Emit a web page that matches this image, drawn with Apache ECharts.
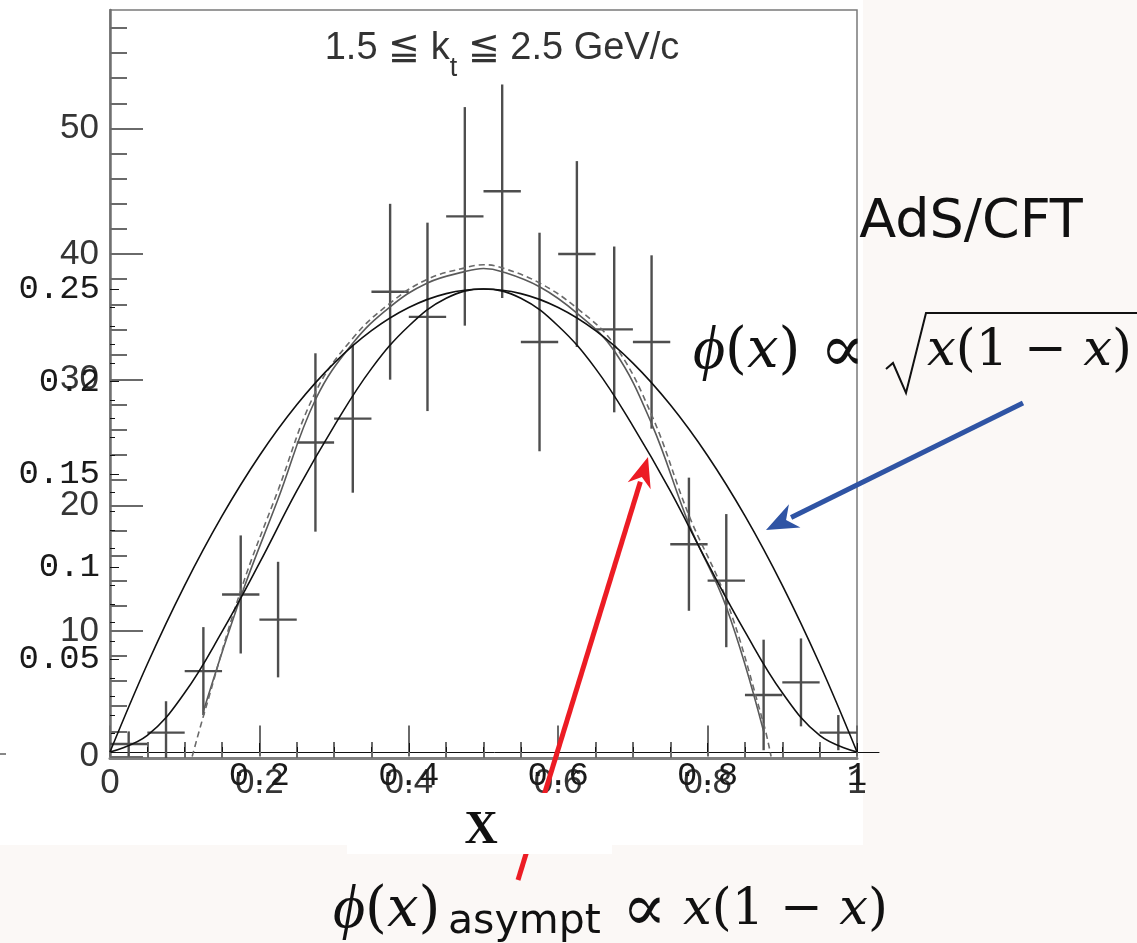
<!DOCTYPE html>
<html><head><meta charset="utf-8">
<script src="https://cdn.jsdelivr.net/npm/echarts@6/dist/echarts.min.js"></script>
<style>html,body{margin:0;padding:0;background:#fbf8f6}#c{width:1137px;height:943px}</style>
</head><body><div id="c"></div>
<script>
// ---- E791 histogram (1.5 <= kt <= 2.5 GeV/c), events per bin ----
const binLow  = [0.00,0.05,0.10,0.15,0.20,0.25,0.30,0.35,0.40,0.45,0.50,0.55,0.60,0.65,0.70,0.75,0.80,0.85,0.90,0.95];
const binHigh = [0.05,0.10,0.15,0.20,0.25,0.30,0.35,0.40,0.45,0.50,0.55,0.60,0.65,0.70,0.75,0.80,0.85,0.90,0.95,1.00];
const counts  = [1.0,1.9,6.8,12.9,10.9,25.0,26.9,37.0,35.0,43.0,45.0,33.0,40.0,34.0,33.0,16.9,14.0,4.9,5.9,1.9];
const errors  = [1.0,2.5,3.5,4.7,4.6,7.1,5.9,7.0,7.5,8.7,8.5,8.7,7.4,6.6,6.9,5.3,5.3,4.4,3.5,1.4];

// ---- E791 fit curves ----
const e791X      = [0.125,0.175,0.225,0.275,0.325,0.375,0.425,0.475,0.5,0.525,0.575,0.625,0.675,0.725,0.775,0.825,0.875];
const e791Solid  = [3.6,12.7,20.5,28.4,32.9,35.8,37.7,38.6,38.85,38.6,37.4,35.3,32.3,26.5,18.5,11.9,2.0];
const e791DashX  = [0.11,0.125,0.175,0.225,0.275,0.325,0.375,0.425,0.475,0.5,0.525,0.575,0.625,0.675,0.725,0.775,0.825,0.875,0.885];
const e791Dash   = [0,3.2,13.2,21.2,29.0,33.3,36.1,38.0,38.9,39.15,38.9,37.7,35.7,32.8,27.2,19.2,12.5,2.6,0];

// ---- overlaid distribution amplitude curves ----
const phiX      = [0,0.05,0.1,0.15,0.2,0.25,0.3,0.35,0.4,0.45,0.5,0.55,0.6,0.65,0.7,0.75,0.8,0.85,0.9,0.95,1];
const phiWide   = [0,0.0475,0.09,0.1275,0.16,0.1875,0.21,0.2275,0.24,0.2475,0.25,0.2475,0.24,0.2275,0.21,0.1875,0.16,0.1275,0.09,0.0475,0];
const phiNarrow = [0,0.009,0.032,0.065,0.102,0.141,0.176,0.207,0.230,0.245,0.25,0.245,0.230,0.207,0.176,0.141,0.102,0.065,0.032,0.009,0];

// ---- ticks and tick labels ----
const rootYMajor = [0,10,20,30,40,50];
const rootYLabels = ['0','10','20','30','40','50'];
const rootYMinor = [2,4,6,8,12,14,16,18,22,24,26,28,32,34,36,38,42,44,46,48,52,54,56,58];
const rootXMajor = [0,0.2,0.4,0.6,0.8,1];
const rootXLabels = ['0','0.2','0.4','0.6','0.8','1'];
const rootXMinor = [0.05,0.1,0.15,0.25,0.3,0.35,0.45,0.5,0.55,0.65,0.7,0.75,0.85,0.9,0.95];
const mathYMajor = [0.05,0.1,0.15,0.2,0.25];
const mathYLabels = ['0.05','0.1','0.15','0.2','0.25'];
const mathYMinor = [0.01,0.02,0.03,0.04,0.06,0.07,0.08,0.09,0.11,0.12,0.13,0.14,0.16,0.17,0.18,0.19,0.21,0.22,0.23,0.24];
const mathXMajor = [0.2,0.4,0.6,0.8,1];
const mathXLabels = ['0.2','0.4','0.6','0.8','1'];
const mathXMinor = [0.05,0.1,0.15,0.25,0.3,0.35,0.45,0.5,0.55,0.65,0.7,0.75,0.85,0.9,0.95];

const chart = echarts.init(document.getElementById('c'), null, {renderer:'canvas', width:1137, height:943});

const ROOT_GRAY = '#6a6a6a';
const rootLabel = {fontFamily:'"Liberation Sans", Arial, sans-serif', color:'#353535'};
const monoLabel = {fontFamily:'"Liberation Mono", "DejaVu Sans Mono", monospace', color:'#1a1a1a', fontSize:34};

function arrowEls(x1,y1,x2,y2,color,lw,hl,hw,z){
  const dx=x2-x1, dy=y2-y1, L=Math.hypot(dx,dy), ux=dx/L, uy=dy/L;
  const bx=x2-ux*hl, by=y2-uy*hl, px=-uy, py=ux;
  return [
    {type:'line', z, shape:{x1:x1,y1:y1,x2:bx+ux*4,y2:by+uy*4}, style:{stroke:color, lineWidth:lw}},
    {type:'polygon', z, shape:{points:[[x2,y2],[bx+px*hw/2,by+py*hw/2],[bx+ux*hl*0.3,by+uy*hl*0.3],[bx-px*hw/2,by-py*hw/2]]}, style:{fill:color}}
  ];
}

const histData = counts.map((c,i)=>[binLow[i], binHigh[i], c, errors[i]]);
const phiRich = {
  p:{fontStyle:'italic', fontFamily:'"Liberation Serif", serif', fontSize:62, fill:'#111'},
  i:{fontStyle:'italic', fontFamily:'"DejaVu Serif", serif', fontSize:56, fill:'#111'}
};
const xRich = {
  i:{fontStyle:'italic', fontFamily:'"DejaVu Serif", serif', fontSize:51, fill:'#111'}
};

const option = {
  backgroundColor:'#fbf8f6',
  animation:false,
  grid:[
    {left:110, top:10, width:747, height:748, show:true, borderColor:'#7a7a7a', borderWidth:1.5, backgroundColor:'rgba(0,0,0,0)', containLabel:false, outerBoundsMode:'none'},
    {left:110, top:10, width:769, height:742, show:false, containLabel:false, outerBoundsMode:'none'}
  ],
  xAxis:[
    {gridIndex:0, type:'value', min:0, max:1, position:'bottom',
      axisLine:{show:true, onZero:false, lineStyle:{color:'#808080', width:3}},
      axisTick:{show:true, inside:true, length:16, customValues:rootXMinor, lineStyle:{color:ROOT_GRAY, width:2}},
      axisLabel:{show:false}, splitLine:{show:false}},
    {gridIndex:0, type:'value', min:0, max:1, position:'bottom',
      axisLine:{show:false},
      axisTick:{show:true, inside:true, length:31, customValues:rootXMajor, lineStyle:{color:ROOT_GRAY, width:2}},
      axisLabel:Object.assign({show:true, customValues:rootXMajor, margin:8, fontSize:35,
        formatter:v=>rootXLabels[rootXMajor.indexOf(v)]}, rootLabel),
      splitLine:{show:false}},
    {gridIndex:1, type:'value', min:0, max:1.0294, position:'bottom',
      axisLine:{show:true, onZero:false, lineStyle:{color:'#111', width:1}},
      axisTick:{show:true, inside:true, length:5, customValues:mathXMinor, lineStyle:{color:'#111', width:1}},
      axisLabel:{show:false}, splitLine:{show:false}},
    {gridIndex:1, type:'value', min:0, max:1.0294, position:'bottom',
      axisLine:{show:false},
      axisTick:{show:true, inside:true, length:9, customValues:mathXMajor, lineStyle:{color:'#111', width:1}},
      axisLabel:Object.assign({show:true, customValues:mathXMajor, margin:7,
        formatter:v=>mathXLabels[mathXMajor.indexOf(v)]}, monoLabel),
      splitLine:{show:false}}
  ],
  yAxis:[
    {gridIndex:0, type:'value', min:-0.12, max:59.43, position:'left',
      axisLine:{show:true, onZero:false, lineStyle:{color:'#707070', width:2.5}},
      axisTick:{show:true, inside:true, length:33, customValues:rootYMajor, lineStyle:{color:ROOT_GRAY, width:2}},
      axisLabel:Object.assign({show:true, customValues:rootYMajor, margin:11, fontSize:35,
        formatter:v=>rootYLabels[rootYMajor.indexOf(v)]}, rootLabel),
      splitLine:{show:false}},
    {gridIndex:0, type:'value', min:-0.12, max:59.43, position:'left',
      axisLine:{show:false},
      axisTick:{show:true, inside:true, length:17, customValues:rootYMinor, lineStyle:{color:ROOT_GRAY, width:2}},
      axisLabel:{show:false}, splitLine:{show:false}},
    {gridIndex:1, type:'value', min:0, max:0.40065, position:'left',
      axisLine:{show:false},
      axisTick:{show:true, inside:true, length:5, customValues:mathYMinor, lineStyle:{color:'#111', width:1}},
      axisLabel:{show:false}, splitLine:{show:false}},
    {gridIndex:1, type:'value', min:0, max:0.40065, position:'left',
      axisLine:{show:false},
      axisTick:{show:true, inside:true, length:9, customValues:mathYMajor, lineStyle:{color:'#111', width:1}},
      axisLabel:Object.assign({show:true, customValues:mathYMajor, margin:10,
        formatter:v=>mathYLabels[mathYMajor.indexOf(v)]}, monoLabel),
      splitLine:{show:false}}
  ],
  series:[
    {type:'custom', name:'E791 data', xAxisIndex:0, yAxisIndex:0, clip:true, z:3,
      data:histData,
      renderItem:(params, api)=>{
        const lo=api.value(0), hi=api.value(1), v=api.value(2), e=api.value(3), xc=(lo+hi)/2;
        const a=api.coord([lo,v]), b=api.coord([hi,v]);
        const t=api.coord([xc,v+e]), d=api.coord([xc,v-e]);
        const st={stroke:'#4e4e4e', lineWidth:2.4};
        return {type:'group', children:[
          {type:'line', shape:{x1:a[0],y1:a[1],x2:b[0],y2:b[1]}, style:st},
          {type:'line', shape:{x1:t[0],y1:t[1],x2:d[0],y2:d[1]}, style:st}
        ]};
      }},
    {type:'line', name:'E791 fit', xAxisIndex:0, yAxisIndex:0, smooth:0.4, showSymbol:false, symbol:'none', z:3,
      data:e791X.map((x,i)=>[x,e791Solid[i]]), lineStyle:{color:'#5a5a5a', width:1.6}},
    {type:'line', name:'E791 fit dashed', xAxisIndex:0, yAxisIndex:0, smooth:0.4, showSymbol:false, symbol:'none', z:3,
      data:e791DashX.map((x,i)=>[x,e791Dash[i]]), lineStyle:{color:'#6a6a6a', width:1.6, type:[6,4]}},
    {type:'line', name:'wide', xAxisIndex:2, yAxisIndex:2, smooth:0.4, showSymbol:false, symbol:'none', z:4,
      data:phiX.map((x,i)=>[x,phiWide[i]]), lineStyle:{color:'#111', width:1.6}},
    {type:'line', name:'narrow', xAxisIndex:2, yAxisIndex:2, smooth:0.4, showSymbol:false, symbol:'none', z:4,
      data:phiX.map((x,i)=>[x,phiNarrow[i]]), lineStyle:{color:'#111', width:1.6}}
  ],
  graphic:{elements:[
    {type:'rect', z:-10, silent:true, shape:{x:0,y:0,width:863,height:845}, style:{fill:'#ffffff'}},
    {type:'line', z:5, silent:true, shape:{x1:0,y1:754,x2:6,y2:754}, style:{stroke:'#111', lineWidth:1}},
    {type:'text', z:5, x:502, y:49, style:{text:'1.5 ≦ k{sub|t} ≦ 2.5 GeV/c', fill:'#333', fontSize:38,
      fontFamily:'"Liberation Sans", Arial, sans-serif', align:'center', verticalAlign:'middle',
      rich:{sub:{fontSize:27, fill:'#333', fontFamily:'"Liberation Sans", Arial, sans-serif', padding:[40,0,0,0]}}}},
    {type:'text', z:50, x:971, y:223, style:{text:'AdS/CFT', fill:'#111', fontSize:54, fontFamily:'"DejaVu Sans", sans-serif', align:'center', verticalAlign:'middle'}},
    {type:'text', z:50, x:693, y:352, style:{text:'{p|ϕ}({i|x})', fill:'#111', fontSize:56, fontFamily:'"DejaVu Serif", serif', align:'left', verticalAlign:'middle', rich:phiRich}},
    {type:'text', z:50, x:820, y:354, style:{text:'∝', fill:'#111', fontSize:66, fontFamily:'"DejaVu Serif", serif', align:'left', verticalAlign:'middle'}},
    {type:'polyline', z:50, silent:true, shape:{points:[[886,369],[893,363],[906,393],[926,313],[1137,313]]}, style:{stroke:'#111', lineWidth:2, fill:null}},
    {type:'text', z:50, x:927, y:352, style:{text:'{i|x}(1 − {i|x})', fill:'#111', fontSize:51, fontFamily:'"DejaVu Serif", serif', align:'left', verticalAlign:'middle', rich:xRich}}
  ].concat(arrowEls(1023,403,766,530,'#2f54a4',5,32,26,50))
   .concat(arrowEls(518,880,648,457,'#ec1c24',5,30,24,50))
   .concat([
    {type:'rect', z:60, silent:true, shape:{x:347,y:793,width:265,height:61}, style:{fill:'#ffffff'}},
    {type:'text', z:61, x:481, y:831, style:{text:'X', fill:'#111', fontSize:46, fontWeight:'bold', fontFamily:'"Liberation Serif", serif', align:'center', verticalAlign:'middle'}},
    {type:'text', z:50, x:333, y:911, style:{text:'{p|ϕ}({i|x})', fill:'#111', fontSize:56, fontFamily:'"DejaVu Serif", serif', align:'left', verticalAlign:'middle', rich:phiRich}},
    {type:'text', z:50, x:448, y:922, style:{text:'asympt', fill:'#111', fontSize:41, fontFamily:'"DejaVu Sans", sans-serif', align:'left', verticalAlign:'middle'}},
    {type:'text', z:50, x:622, y:913, style:{text:'∝', fill:'#111', fontSize:66, fontFamily:'"DejaVu Serif", serif', align:'left', verticalAlign:'middle'}},
    {type:'text', z:50, x:683, y:911, style:{text:'{i|x}(1 − {i|x})', fill:'#111', fontSize:51, fontFamily:'"DejaVu Serif", serif', align:'left', verticalAlign:'middle', rich:xRich}}
   ])}
};
chart.setOption(option);
</script></body></html>
